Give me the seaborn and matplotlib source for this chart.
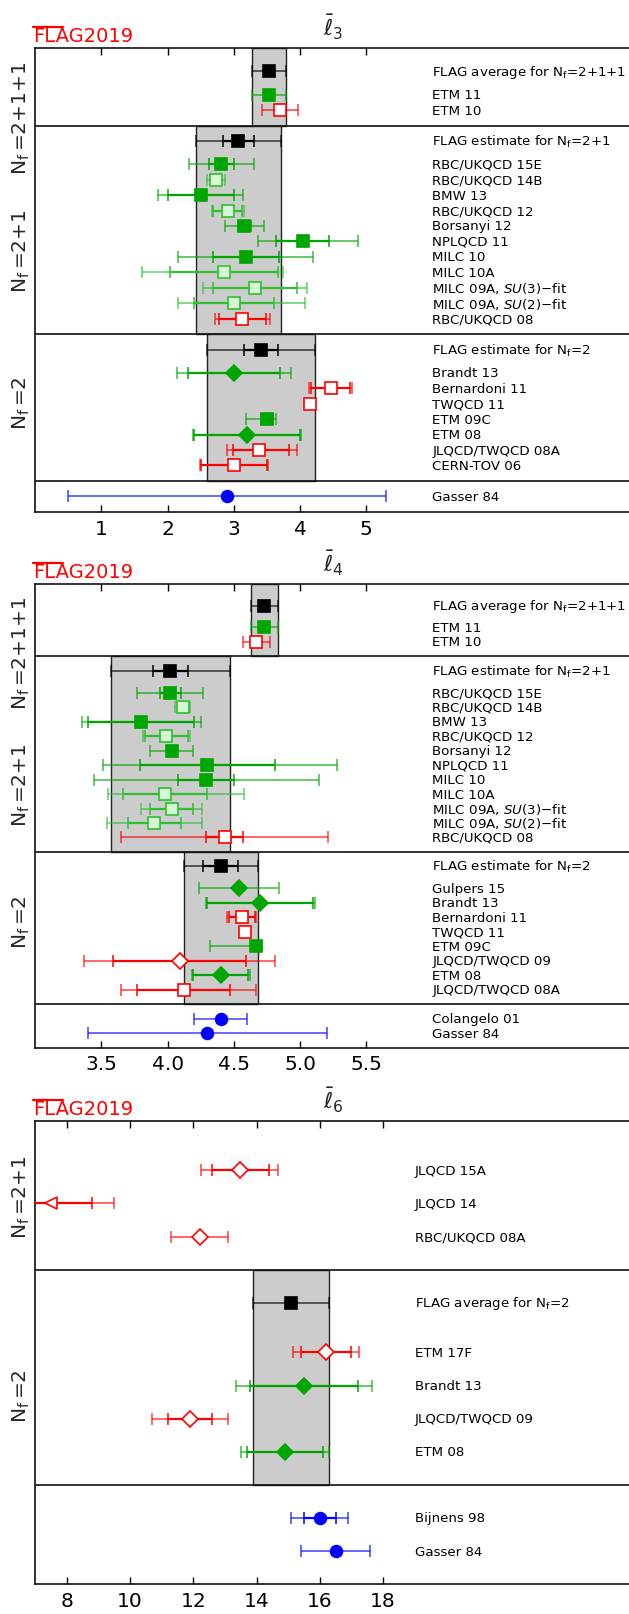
import numpy as np
import matplotlib
matplotlib.use('Agg')
import matplotlib.pyplot as plt
import seaborn as sns
from matplotlib.lines import Line2D

sns.set_theme(style='white')
plt.rcParams['font.family'] = ['DejaVu Sans']
plt.rcParams['mathtext.fontset'] = 'dejavusans'

nan = np.nan

# ---------------- l3 ----------------
l3_names = [r'FLAG average for N$_\mathrm{f}$=2+1+1', 'ETM 11', 'ETM 10',
            r'FLAG estimate for N$_\mathrm{f}$=2+1', 'RBC/UKQCD 15E', 'RBC/UKQCD 14B', 'BMW 13',
            'RBC/UKQCD 12', 'Borsanyi 12', 'NPLQCD 11', 'MILC 10', 'MILC 10A',
            r'MILC 09A, $\mathit{SU}(3)$−fit', r'MILC 09A, $\mathit{SU}(2)$−fit', 'RBC/UKQCD 08',
            r'FLAG estimate for N$_\mathrm{f}$=2', 'Brandt 13', 'Bernardoni 11', 'TWQCD 11',
            'ETM 09C', 'ETM 08', 'JLQCD/TWQCD 08A', 'CERN-TOV 06', 'Gasser 84']
l3_sect = ['4f'] * 3 + ['3f'] * 12 + ['2f'] * 8 + ['ph']
l3_kind = ['avg', 'sq_fill', 'sq_open',
           'avg', 'sq_fill', 'sq_light', 'sq_fill', 'sq_light', 'sq_fill', 'sq_fill', 'sq_fill',
           'sq_light', 'sq_light', 'sq_light', 'sq_open',
           'avg', 'dia_fill', 'sq_open', 'sq_open', 'sq_fill', 'dia_fill', 'sq_open', 'sq_open',
           'circle']
l3_val = [3.53, 3.53, 3.70, 3.07, 2.81, 2.73, 2.50, 2.91, 3.16, 4.04, 3.18, 2.85, 3.32, 3.00,
          3.13, 3.41, 3.00, 4.46, 4.149, 3.50, 3.20, 3.38, 3.00, 2.90]
l3_tot_lo = [0.26, 0.26, 0.27, 0.64, 0.49, 0.13, 0.64, 0.24, 0.30, 0.68, 1.02, 1.24, 0.78, 0.85,
             0.41, 0.82, 0.86, 0.33, 0.04, 0.31, 0.82, 0.48, 0.51, 2.40]
l3_tot_hi = [0.26, 0.26, 0.27, 0.64, 0.49, 0.13, 0.64, 0.24, 0.30, 0.83, 1.02, 0.89, 0.78, 1.08,
             0.41, 0.82, 0.86, 0.33, 0.04, 0.13, 0.82, 0.57, 0.51, 2.40]
l3_in_lo = [nan, 0.05, 0.07, 0.23, 0.19, nan, 0.50, 0.22, 0.10, 0.40, 0.50, 0.81, 0.64, 0.60,
            0.35, 0.25, 0.70, 0.30, 0.035, 0.09, 0.80, 0.40, 0.50, nan]
l3_in_hi = [nan, 0.05, 0.07, 0.23, 0.19, nan, 0.50, 0.22, 0.10, 0.40, 0.50, 0.81, 0.64, 0.60,
            0.35, 0.25, 0.70, 0.30, 0.035, 0.09, 0.80, 0.45, 0.50, nan]
l3_ticks = [1, 2, 3, 4, 5]

# ---------------- l4 ----------------
l4_names = [r'FLAG average for N$_\mathrm{f}$=2+1+1', 'ETM 11', 'ETM 10',
            r'FLAG estimate for N$_\mathrm{f}$=2+1', 'RBC/UKQCD 15E', 'RBC/UKQCD 14B', 'BMW 13',
            'RBC/UKQCD 12', 'Borsanyi 12', 'NPLQCD 11', 'MILC 10', 'MILC 10A',
            r'MILC 09A, $\mathit{SU}(3)$−fit', r'MILC 09A, $\mathit{SU}(2)$−fit', 'RBC/UKQCD 08',
            r'FLAG estimate for N$_\mathrm{f}$=2', 'Gulpers 15', 'Brandt 13', 'Bernardoni 11',
            'TWQCD 11', 'ETM 09C', 'JLQCD/TWQCD 09', 'ETM 08', 'JLQCD/TWQCD 08A',
            'Colangelo 01', 'Gasser 84']
l4_sect = ['4f'] * 3 + ['3f'] * 12 + ['2f'] * 9 + ['ph'] * 2
l4_kind = ['avg', 'sq_fill', 'sq_open',
           'avg', 'sq_fill', 'sq_light', 'sq_fill', 'sq_light', 'sq_fill', 'sq_fill', 'sq_fill',
           'sq_light', 'sq_light', 'sq_light', 'sq_open',
           'avg', 'dia_fill', 'dia_fill', 'sq_open', 'sq_open', 'sq_fill', 'dia_open', 'dia_fill',
           'sq_open', 'circle', 'circle']
l4_val = [4.73, 4.73, 4.67, 4.02, 4.02, 4.113, 3.80, 3.99, 4.03, 4.30, 4.29, 3.98, 4.03, 3.90,
          4.43, 4.40, 4.54, 4.70, 4.56, 4.582, 4.67, 4.09, 4.40, 4.12, 4.40, 4.30]
l4_tot_lo = [0.10, 0.10, 0.10, 0.45, 0.25, 0.059, 0.45, 0.18, 0.16, 0.79, 0.85, 0.43, 0.23, 0.36,
             0.78, 0.28, 0.30, 0.41, 0.11, 0.026, 0.35, 0.72, 0.22, 0.47, 0.20, 0.90]
l4_tot_hi = [0.10, 0.10, 0.10, 0.45, 0.25, 0.059, 0.45, 0.18, 0.16, 0.98, 0.85, 0.60, 0.23, 0.36,
             0.78, 0.28, 0.30, 0.41, 0.11, 0.026, 0.04, 0.72, 0.22, 0.55, 0.20, 0.90]
l4_in_lo = [nan, 0.02, 0.03, 0.13, 0.08, nan, 0.40, 0.16, 0.03, 0.51, 0.21, 0.32, 0.16, 0.20,
            0.14, 0.13, nan, 0.40, 0.10, 0.017, 0.03, 0.50, 0.21, 0.35, nan, nan]
l4_in_hi = [nan, 0.02, 0.03, 0.13, 0.08, nan, 0.40, 0.16, 0.03, 0.51, 0.21, 0.32, 0.16, 0.20,
            0.14, 0.13, nan, 0.40, 0.10, 0.017, 0.03, 0.50, 0.21, 0.35, nan, nan]
l4_ticks = [3.5, 4.0, 4.5, 5.0, 5.5]

# ---------------- l6 ----------------
l6_names = ['JLQCD 15A', 'JLQCD 14', 'RBC/UKQCD 08A',
            r'FLAG average for N$_\mathrm{f}$=2', 'ETM 17F', 'Brandt 13', 'JLQCD/TWQCD 09', 'ETM 08',
            'Bijnens 98', 'Gasser 84']
l6_sect = ['3f'] * 3 + ['2f'] * 5 + ['ph'] * 2
l6_kind = ['dia_open', 'tri_open', 'dia_open',
           'avg', 'dia_open', 'dia_fill', 'dia_open', 'dia_fill', 'circle', 'circle']
l6_val = [13.49, 7.50, 12.20, 15.10, 16.20, 15.50, 11.90, 14.90, 16.00, 16.50]
l6_tot_lo = [1.24, 2.00, 0.90, 1.20, 1.03, 2.15, 1.20, 1.40, 0.90, 1.10]
l6_tot_hi = [1.20, 2.00, 0.90, 1.20, 1.03, 2.15, 1.20, 1.40, 0.90, 1.10]
l6_in_lo = [0.89, 1.30, nan, nan, 0.78, 1.70, 0.70, 1.20, 0.50, nan]
l6_in_hi = [0.89, 1.30, nan, nan, 0.78, 1.70, 0.70, 1.20, 0.50, nan]
l6_ticks = [8, 10, 12, 14, 16, 18]

sect_text = {'4f': r'N$_\mathrm{f}\,$=2+1+1', '3f': r'N$_\mathrm{f}\,$=2+1', '2f': r'N$_\mathrm{f}\,$=2'}

GREEN = '#00a600'
LGREEN = '#2fbf2f'
RED = '#ff0000'
BLUE = '#0000ff'
styles = {
    'avg':      ('black', 'black', 'black', 's', 8.5),
    'sq_fill':  (GREEN, GREEN, GREEN, 's', 8.5),
    'sq_light': (LGREEN, '#d6f7d6', LGREEN, 's', 8.5),
    'sq_open':  (RED, 'white', RED, 's', 8.5),
    'dia_fill': (GREEN, GREEN, GREEN, 'D', 8.0),
    'dia_open': (RED, 'white', RED, 'D', 8.0),
    'tri_open': (RED, 'white', RED, '<', 9.0),
    'circle':   (BLUE, BLUE, BLUE, 'o', 8.5),
}


def layout(sect, kind):
    ys = []
    lines = []
    for i in range(len(sect)):
        if i == 0:
            y = 1.5
        elif sect[i] != sect[i - 1]:
            lines.append(ys[-1] + 1.0)
            y = lines[-1] + 1.0
        elif kind[i - 1] == 'avg':
            y = ys[-1] + 1.5
        else:
            y = ys[-1] + 1.0
        ys.append(y)
    return ys, lines, ys[-1] + 1.0


def draw_panel(ax, names, sect, kind, val, tlo, thi, ilo, ihi, xlim, ticks, lab_x, lab_y, title):
    ys, lines, bottom = layout(sect, kind)
    bounds = [0.0] + lines + [bottom]
    order = list(dict.fromkeys(sect))
    ax.set_xlim(*xlim)
    ax.set_ylim(bottom, 0)

    for i, y in enumerate(ys):
        col, mfc, mec, mk, ms = styles[kind[i]]
        if kind[i] == 'avg':
            k = order.index(sect[i])
            ax.fill_betweenx([bounds[k], bounds[k + 1]], val[i] - tlo[i], val[i] + thi[i],
                             facecolor='#cccccc', edgecolor='#222222', lw=1.0, zorder=0)
        ax.errorbar(val[i], y, xerr=[[tlo[i]], [thi[i]]], fmt='none', ecolor=col,
                    elinewidth=1.1, capsize=4.5, capthick=1.1, alpha=0.75, zorder=3)
        if not np.isnan(ilo[i]):
            ax.errorbar(val[i], y, xerr=[[ilo[i]], [ihi[i]]], fmt='none', ecolor=col,
                        elinewidth=1.6, capsize=4.5, capthick=1.1, zorder=3)
        ax.plot(val[i], y, marker=mk, ms=ms, mfc=mfc, mec=mec, mew=1.2, ls='none', zorder=5)
        ax.text(lab_x, y, names[i], fontsize=9.6, ha='left', va='center', color='black')

    for ln in lines:
        ax.axhline(ln, color='#111111', lw=1.2, zorder=2)

    tr = ax.get_yaxis_transform()
    for s, yl in zip([s for s in order if s in sect_text], lab_y):
        ax.text(-0.024, yl, sect_text[s], transform=tr, rotation=90, ha='center', va='center',
                fontsize=14.5)

    ax.set_xticks(ticks)
    ax.set_xticklabels([f'{t:g}' if isinstance(t, int) else f'{t:.1f}' for t in ticks])
    ax.set_yticks([])
    ax.tick_params(axis='x', direction='in', top=True, bottom=True, length=5, width=1,
                   labelsize=14.5, pad=5, colors='black')
    for sp in ax.spines.values():
        sp.set_color('#111111')
        sp.set_linewidth(1.2)
    ax.text(0.5, 1.0 + 7 / 463, title, transform=ax.transAxes, ha='center', va='bottom',
            fontsize=16)


fig = plt.figure(figsize=(6.29, 16.15), dpi=100)
W, H = 629.0, 1615.0
left = 35.3 / W
width = (631 - 35.3) / W
tops = [49.3, 585.0, 1121.7]
ah = 463.5

panels = [
    (l3_names, l3_sect, l3_kind, l3_val, l3_tot_lo, l3_tot_hi, l3_in_lo, l3_in_hi,
     (0, 9.0), l3_ticks, 6.0, [4.45, 13.1, 22.9], r'$\bar{\ell}_3$'),
    (l4_names, l4_sect, l4_kind, l4_val, l4_tot_lo, l4_tot_hi, l4_in_lo, l4_in_hi,
     (3.0, 7.5), l4_ticks, 6.0, [4.74, 13.8, 23.3], r'$\bar{\ell}_4$'),
    (l6_names, l6_sect, l6_kind, l6_val, l6_tot_lo, l6_tot_hi, l6_in_lo, l6_in_hi,
     (7.0, 25.85), l6_ticks, 19.0, [2.29, 8.3], r'$\bar{\ell}_6$'),
]

for top, p in zip(tops, panels):
    ax = fig.add_axes([left, 1 - (top + ah) / H, width, ah / H])
    draw_panel(ax, *p)
    # FLAG 2019 logo
    base = top - 7
    fig.text(33 / W, 1 - base / H, 'FLAG2019', color='red', fontsize=14, ha='left',
             va='baseline')
    fig.add_artist(Line2D([33 / W, 63 / W], [1 - (base - 14.0) / H] * 2, color='red', lw=1.6))

fig.savefig('out.png', dpi=100)
